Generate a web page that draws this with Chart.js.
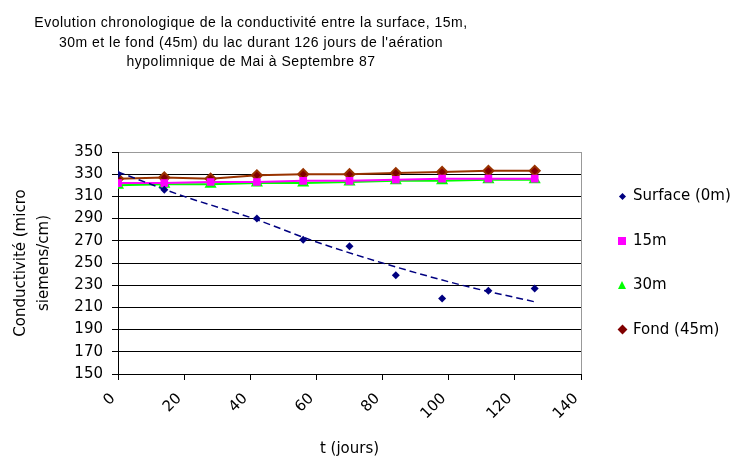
<!DOCTYPE html>
<html>
<head>
<meta charset="utf-8">
<script src="https://cdn.jsdelivr.net/npm/chart.js@4.4.1/dist/chart.umd.min.js"></script>
<style>
  body { margin: 0; background: #fff; }
  #wrap { position: relative; width: 750px; height: 460px; }
  #title {
    position: absolute; left: 0; top: 13px; width: 502px;
    font: 14px "Liberation Sans", Arial, sans-serif; line-height: 19.5px;
    letter-spacing: 0.5px; text-align: center; color: #000;
  }
  #legend {
    position: absolute; left: 616px; top: 186px;
    font: 15px "DejaVu Sans", sans-serif; color: #000;
  }
  .item { height: 44.5px; display: flex; align-items: flex-start; }
  .item span.mk { width: 14px; height: 20px; position: relative; margin-right: 3px; }
  .item span.mk i { position: absolute; display: block; }
</style>
</head>
<body>
<div id="wrap">
  <div id="title">Evolution chronologique de la conductivité entre la surface, 15m,<br>30m et le fond (45m) du lac durant 126 jours de l'aération<br>hypolimnique de Mai à Septembre 87</div>
  <canvas id="chart" width="750" height="460"></canvas>
  <div id="legend"></div>
</div>
<script>
const days = [0, 14, 28, 42, 56, 70, 84, 98, 112, 126];
const surfaceDays = [0, 14, 42, 56, 70, 84, 98, 112, 126];
const surface = [330, 316, 290, 271, 265, 239, 218, 225, 227];
const m15 = [322, 322, 323, 323, 324, 324, 325, 326, 326, 326];
const m30 = [320, 321, 321, 322, 322, 323, 324, 324, 325, 325];
const fond = [326, 327, 326, 329, 330, 330, 331, 332, 333, 333];
const trendDays = [0, 20, 41, 59, 80, 104, 126];
const trend = [332, 310, 290, 270, 250, 230, 215];
const yTicks = { min: 150, max: 350, step: 20 };
const xTicks = { min: 0, max: 140, step: 20 };

const legendItems = [
    { label: "Surface (0m)", color: "#000080", shape: "diamond" },
    { label: "15m", color: "#ff00ff", shape: "square" },
    { label: "30m", color: "#00ff00", shape: "triangle" },
    { label: "Fond (45m)", color: "#800000", shape: "diamond" },
];

const toPoints = (xs, ys) => xs.map((x, i) => ({ x: x, y: ys[i] }));

const legendEl = document.getElementById("legend");
legendItems.forEach((item) => {
    const row = document.createElement("div");
    row.className = "item";
    const mk = document.createElement("span");
    mk.className = "mk";
    const shape = document.createElement("i");
    if (item.shape === "diamond") {
        const s = item.label === "Fond (45m)" ? 7 : 5;
        shape.style.cssText = `width:${s}px;height:${s}px;background:${item.color};transform:rotate(45deg);left:${6 - s / 2}px;top:${10 - s / 2}px;`;
    } else if (item.shape === "square") {
        shape.style.cssText = `width:8px;height:8px;background:${item.color};left:2px;top:6px;`;
    } else {
        shape.style.cssText = `width:0;height:0;border-left:4px solid transparent;border-right:4px solid transparent;border-bottom:8px solid ${item.color};left:2px;top:6px;`;
    }
    mk.appendChild(shape);
    const txt = document.createElement("span");
    txt.textContent = item.label;
    row.appendChild(mk);
    row.appendChild(txt);
    legendEl.appendChild(row);
});

const tickFont = { family: "DejaVu Sans", size: 15 };

new Chart(document.getElementById("chart").getContext("2d"), {
    type: "scatter",
    data: {
        datasets: [
            {
                label: "Surface (0m)",
                data: toPoints(surfaceDays, surface),
                showLine: false,
                pointStyle: "rectRot",
                pointRadius: 4,
                backgroundColor: "#000080",
                borderColor: "#000080",
                borderWidth: 0,
            },
            {
                label: "tendance",
                data: toPoints(trendDays, trend),
                showLine: true,
                pointRadius: 0,
                borderColor: "#000080",
                borderWidth: 1.5,
                borderDash: [7, 4],
                cubicInterpolationMode: "monotone",
            },
            {
                label: "15m",
                data: toPoints(days, m15),
                showLine: true,
                pointStyle: "rect",
                pointRadius: 4,
                backgroundColor: "#ff00ff",
                borderColor: "#ff00ff",
                borderWidth: 2,
            },
            {
                label: "Fond (45m)",
                data: toPoints(days, fond),
                showLine: true,
                pointStyle: "rectRot",
                pointRadius: 5,
                backgroundColor: "#800000",
                borderColor: "#993300",
                borderWidth: 2,
            },
            {
                label: "30m",
                data: toPoints(days, m30),
                showLine: true,
                pointStyle: "triangle",
                pointRadius: 5,
                backgroundColor: "#00ff00",
                borderColor: "#00ff00",
                borderWidth: 2,
            },
        ],
    },
    options: {
        responsive: false,
        animation: false,
        devicePixelRatio: 1,
        layout: { padding: { top: 152, left: 0, right: 169, bottom: 0 } },
        plugins: {
            legend: { display: false },
            tooltip: { enabled: false },
        },
        scales: {
            x: {
                type: "linear",
                min: xTicks.min,
                max: xTicks.max,
                afterFit: (scale) => {
                    scale.height = 86;
                },
                ticks: {
                    stepSize: xTicks.step,
                    minRotation: 45,
                    maxRotation: 45,
                    color: "#000",
                    font: tickFont,
                    padding: 10,
                    labelOffset: -5,
                },
                grid: {
                    color: (c) => (c.tick && c.tick.value === xTicks.max ? "#999" : "rgba(0,0,0,0)"),
                    tickColor: "#000",
                    tickLength: 6,
                },
                border: { color: "#000", width: 1 },
                title: {
                    display: true,
                    text: "t (jours)",
                    color: "#000",
                    font: { family: "DejaVu Sans", size: 15 },
                    padding: { top: 0, bottom: 2 },
                },
            },
            y: {
                min: yTicks.min,
                max: yTicks.max,
                afterFit: (scale) => {
                    scale.width = 118;
                },
                ticks: {
                    stepSize: yTicks.step,
                    color: "#000",
                    font: tickFont,
                    padding: 9,
                },
                grid: {
                    color: (c) => (c.tick && c.tick.value === yTicks.max ? "#999" : "#000"),
                    tickColor: "#000",
                    tickLength: 6,
                },
                border: { color: "#000", width: 1 },
                title: {
                    display: true,
                    text: ["Conductivité (micro", "siemens/cm)"],
                    color: "#000",
                    font: { family: "DejaVu Sans", size: 15, lineHeight: 1.5 },
                    padding: { top: 10, bottom: 0 },
                },
            },
        },
    },
});
</script>
</body>
</html>
